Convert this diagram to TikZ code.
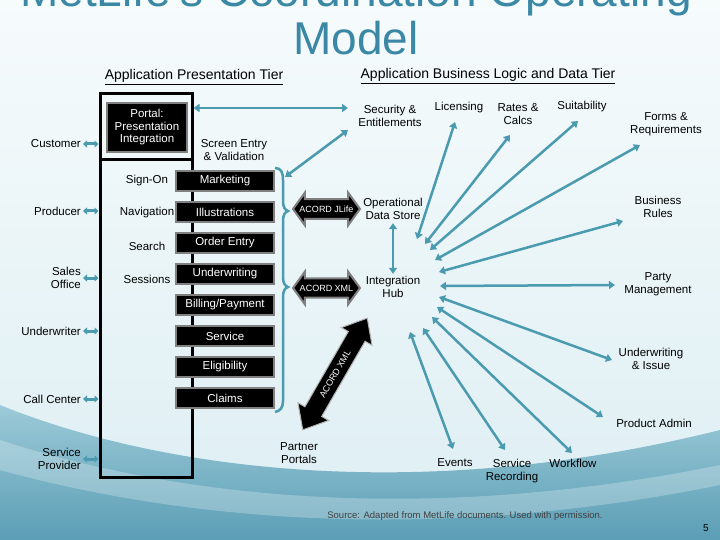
\documentclass[tikz,border=0pt]{standalone}
\usepackage{fontspec}
\setmainfont{Liberation Sans}
\usetikzlibrary{arrows.meta,shapes.arrows}
\definecolor{linkteal}{HTML}{4A9AB0}
\definecolor{titleteal}{HTML}{3A88A5}
\definecolor{bgtop}{HTML}{F6FBFC}
\definecolor{bgmid}{HTML}{DDEEF3}
\definecolor{wavetop}{HTML}{9CCAD8}
\definecolor{wavebot}{HTML}{5B9EB5}
\tikzset{%
  lbl/.style={font=\fontsize{11.5}{13.5}\selectfont, align=center, inner sep=0pt},
  btn/.style={fill=black, draw=gray, line width=1.5pt, text=white, minimum width=98pt, minimum height=20pt, inner sep=0pt, font=\fontsize{11.5}{13}\selectfont},
  link/.style={linkteal, line width=2.5pt, {Triangle[length=6pt,width=8pt]}-{Triangle[length=6pt,width=8pt]}},
  mini/.style={linkteal, line width=3pt, {Triangle[length=4pt,width=7pt]}-{Triangle[length=4pt,width=7pt]}},
  acord/.style={double arrow, fill=black, draw=gray, line width=2pt, text=white, font=\fontsize{9}{9}\selectfont, inner xsep=-7pt, inner ysep=5.5pt, double arrow head extend=6.5pt, double arrow tip angle=108, minimum height=67pt},
}
\begin{document}
\begin{tikzpicture}[x=1pt,y=-1pt]%
\useasboundingbox (0,0) rectangle (720,540);%
% background and waves
\shade[top color=bgtop, bottom color=bgmid] (0,0) rectangle (720,540);%
\shade[top color=wavetop, bottom color=wavebot] (0,405) .. controls (160,470) and (420,505) .. (720,430) -- (720,540) -- (0,540) -- cycle;%
\fill[white, opacity=.25] (0,440) .. controls (200,505) and (450,520) .. (720,465) -- (720,485) .. controls (450,540) and (200,525) .. (0,470) -- cycle;%
% title
\node[anchor=south, align=center, inner sep=0pt, text=titleteal, font=\fontsize{46}{48}\selectfont] (title) at (356,55) {MetLife's Coordination Operating\\Model};%
\node[lbl, font=\fontsize{14}{16}\selectfont] (prestier) at (194,77) {\underline{Application Presentation Tier}};%
\node[lbl, font=\fontsize{14}{16}\selectfont] (logictier) at (488,76) {\underline{Application Business Logic and Data Tier}};%
% presentation column
\node[draw, line width=3pt, minimum width=92pt, minimum height=66pt] (pframe) at (146,127) {};%
\node[draw, line width=3pt, minimum width=92pt, minimum height=317pt] (col) at (146,318.5) {};%
\node[fill=black, draw=gray, line width=1.5pt, text=white, minimum width=80pt, minimum height=49pt, inner sep=0pt, align=center, font=\fontsize{11.5}{12.5}\selectfont] (portal) at (147,127.5) {Portal:\\Presentation\\Integration};%
\node[lbl] (signon) at (147,181) {Sign-On};%
\node[lbl] (navig) at (147,213) {Navigation};%
\node[lbl] (search) at (147,246) {Search};%
\node[lbl] (sessions) at (147,279) {Sessions};%
\foreach \name/\txt [count=\i] in {mkt/Marketing, illus/Illustrations, order/Order Entry, uw/Underwriting, bill/{Billing/Payment}, serv/Service, elig/Eligibility, claims/Claims}%
  \node[btn] (\name) at (225,150+31*\i) {\txt};%
\node[lbl] (screen) at (234,150) {Screen Entry\\\& Validation};%
% channels on the left
\node[lbl, anchor=east, align=right] (cust) at (81,144) {Customer};%
\node[lbl, anchor=east, align=right] (prod) at (81,211) {Producer};%
\node[lbl, anchor=east, align=right] (sales) at (81,278) {Sales\\Office};%
\node[lbl, anchor=east, align=right] (uwr) at (81,331) {Underwriter};%
\node[lbl, anchor=east, align=right] (call) at (81,399) {Call Center};%
\node[lbl, anchor=east, align=right] (prov) at (81,459) {Service\\Provider};%
\foreach \n in {cust,prod,sales,uwr,call,prov}%
  \draw[mini] ([xshift=2pt]\n.east) -- (\n.east -| col.west);%
% brace round the buttons
\draw[linkteal, line width=2.5pt] (275,168) .. controls (281,168) and (283,172) .. (283,180) -- (283,201) .. controls (283,207) and (285,210) .. (288,211) .. controls (285,212) and (283,215) .. (283,221) -- (283,277) .. controls (283,283) and (285,286) .. (288,287) .. controls (285,288) and (283,291) .. (283,297) -- (283,401) .. controls (283,408) and (280,411) .. (275,412);%
\coordinate (bracetop) at (285,177);%
% data tier
\node[lbl] (sec) at (390,116) {Security \&\\Entitlements};%
\coordinate (secport) at (348,108);%
\coordinate (secbrace) at (348,130);%
\draw[link] ([yshift=19pt]pframe.east) -- (secport);%
\draw[link] (bracetop) -- (secbrace);%
\node[acord] (jlife) at (326.5,209) {ACORD JLife};%
\node[acord] (xml) at (326.5,288) {ACORD XML};%
\node[lbl] (ods) at (393,209) {Operational\\Data Store};%
\node[lbl] (hub) at (393,287) {Integration\\Hub};%
\draw[link] ([yshift=-3pt]ods.south) -- ([yshift=2pt]hub.north);%
\node[double arrow, fill=black, draw=gray!60, line width=1pt, text=white, rotate=60, font=\fontsize{9}{9}\selectfont, inner xsep=-10pt, inner ysep=6pt, double arrow head extend=8pt, double arrow tip angle=80, minimum width=31pt, minimum height=129pt] (xmldiag) at (335,374) {ACORD XML};%
\node[lbl] (partner) at (299,453) {Partner\\Portals};%
% services round the hub
\node[lbl] (lic) at (459,108) {Licensing};%
\node[lbl] (rates) at (518,114) {Rates \&\\Calcs};%
\node[lbl] (suit) at (582,107) {Suitability};%
\node[lbl] (forms) at (666,124) {Forms \&\\Requirements};%
\node[lbl] (rules) at (658,207) {Business\\Rules};%
\node[lbl] (party) at (658,284) {Party\\Management};%
\node[lbl] (uwi) at (651,359) {Underwriting\\\& Issue};%
\node[lbl] (padmin) at (654,423) {Product Admin};%
\node[lbl] (events) at (455,463) {Events};%
\node[lbl] (srec) at (512,471) {Service\\Recording};%
\node[lbl] (wflow) at (573,463) {Workflow};%
\foreach \n/\ix/\iy/\ox/\oy in {lic/417/239/455/122, rates/425/244/510/135, suit/430/250/578/121, forms/435/260/640/145, rules/439/272/623/221, party/440/286/615/285, uwi/439/297/612/360, padmin/437/307/603/417, wflow/432/317/572/453, srec/423/328/505/450, events/410/332/453/449}{%
  \coordinate (\n-hub) at (\ix,\iy);%
  \coordinate (\n-end) at (\ox,\oy);%
  \draw[link] (\n-hub) -- (\n-end);%
}%
% footer
\node[inner sep=0pt, text=black!75, font=\fontsize{9.5}{11}\selectfont] (source) at (465,516) {Source: Adapted from MetLife documents. Used with permission.};%
\node[inner sep=0pt, font=\fontsize{10}{11}\selectfont] (pageno) at (706,528) {5};%
\end{tikzpicture}
\end{document}
